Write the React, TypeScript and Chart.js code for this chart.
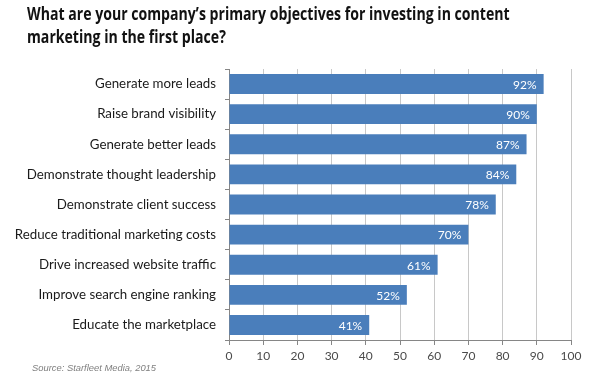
import React, { useEffect, useRef } from "react";
import { Chart, registerables } from "chart.js";

Chart.register(...registerables);

const categories = [
  "Generate more leads",
  "Raise brand visibility",
  "Generate better leads",
  "Demonstrate thought leadership",
  "Demonstrate client success",
  "Reduce traditional marketing costs",
  "Drive increased website traffic",
  "Improve search engine ranking",
  "Educate the marketplace",
];
const values = [92, 90, 87, 84, 78, 70, 61, 52, 41];
const xTicks = [0, 10, 20, 30, 40, 50, 60, 70, 80, 90, 100];
const titleLines = [
  "What are your company\u2019s primary objectives for investing in content",
  "marketing in the first place?",
];
const sourceText = "Source: Starfleet Media, 2015";

const barLabels = {
  id: "barLabels",
  afterDatasetsDraw(chart: any) {
    const ctx = chart.ctx;
    const meta = chart.getDatasetMeta(0);
    ctx.save();
    ctx.fillStyle = "#ffffff";
    ctx.font = "12px Lato, 'Open Sans', sans-serif";
    ctx.textAlign = "right";
    ctx.textBaseline = "middle";
    meta.data.forEach((bar: any, i: number) => {
      ctx.fillText(values[i] + "%", bar.x - 7, bar.y + 1);
    });
    ctx.restore();
  },
};

export default function App() {
  const ref = useRef<HTMLCanvasElement>(null);
  useEffect(() => {
    if (!ref.current) return;
    const chart = new Chart(ref.current, {
      type: "bar",
      data: {
        labels: categories,
        datasets: [
          {
            data: values,
            backgroundColor: "#4a7ebb",
            borderWidth: 0,
            barPercentage: 0.66,
            categoryPercentage: 1,
          },
        ],
      },
      options: {
        indexAxis: "y",
        animation: false,
        responsive: false,
        maintainAspectRatio: false,
        layout: { padding: { left: 0, right: 26, top: 69, bottom: 24 } },
        plugins: {
          legend: { display: false },
          tooltip: { enabled: false },
          title: { display: false },
        },
        scales: {
          x: {
            min: 0,
            max: 100,
            afterBuildTicks: (s: any) => {
              s.ticks = xTicks.map((v) => ({ value: v }));
            },
            afterFit: (s: any) => {
              s.height = 26;
            },
            grid: {
              color: "#c8c8c8",
              lineWidth: 1,
              drawTicks: true,
              tickLength: 5,
              tickColor: "#868686",
            },
            border: { display: true, color: "#868686", width: 1 },
            ticks: {
              color: "#4a4a4a",
              font: { family: "Lato, 'Open Sans', sans-serif", size: 12 },
              padding: 4,
              maxRotation: 0,
            },
          },
          y: {
            afterFit: (s: any) => {
              s.width = 229;
            },
            grid: {
              drawOnChartArea: false,
              drawTicks: true,
              tickLength: 4,
              tickColor: "#868686",
              offset: true,
            },
            border: { display: true, color: "#868686", width: 1 },
            ticks: {
              color: "#1a1a1a",
              font: { family: "Lato, 'Open Sans', sans-serif", size: 13.3 },
              padding: 9,
            },
          },
        },
      },
      plugins: [barLabels],
    });
    return () => chart.destroy();
  }, []);

  return (
    <div style={{ position: "fixed", left: 0, top: 0, width: 597, height: 390, background: "#fff" }}>
      <canvas ref={ref} width={597} height={390} style={{ position: "absolute", left: 0, top: 0, width: 597, height: 390 }} />
      <div
        style={{
          position: "absolute",
          left: 27,
          top: 2,
          fontFamily: "'Open Sans', sans-serif",
          fontWeight: 700,
          fontSize: 17,
          lineHeight: "23px",
          color: "#111111",
          whiteSpace: "nowrap",
          transform: "scaleX(0.83)",
          transformOrigin: "left top",
        }}
      >
        {titleLines.map((l, i) => (
          <div key={i}>{l}</div>
        ))}
      </div>
      <div
        style={{
          position: "absolute",
          left: 32,
          top: 362,
          fontFamily: "'Liberation Sans', Arial, sans-serif",
          fontStyle: "italic",
          fontSize: 9.4,
          color: "#7f7f7f",
          whiteSpace: "nowrap",
        }}
      >
        {sourceText}
      </div>
    </div>
  );
}
